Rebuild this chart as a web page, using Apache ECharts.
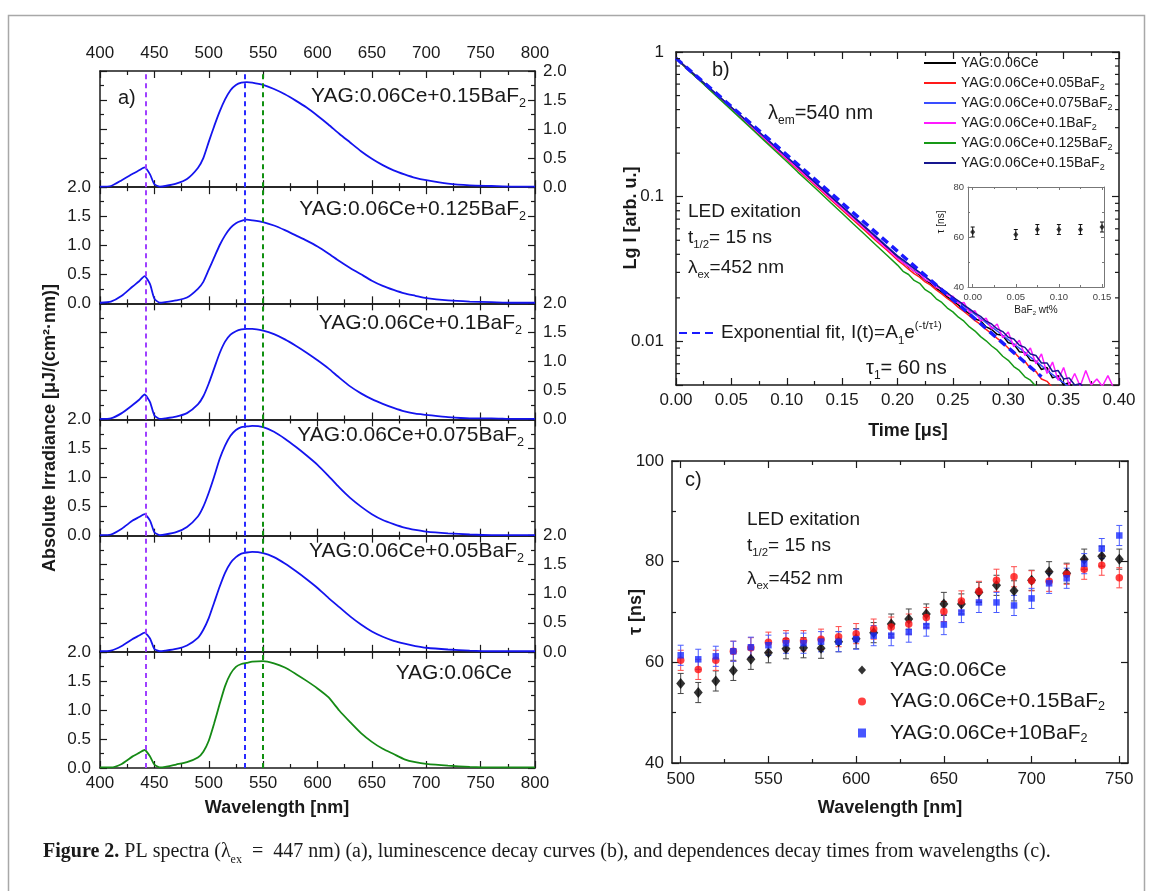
<!DOCTYPE html>
<html><head><meta charset="utf-8">
<script src="https://cdn.jsdelivr.net/npm/echarts@6/dist/echarts.min.js"></script>
<style>html,body{margin:0;padding:0;background:#fff}#c{width:1153px;height:891px}</style>
</head><body><div id="c"></div>
<script>
// ---------- Panel a: PL spectra ----------
const W = [400,410,420,430,436,441,446,450,455,460,470,480,490,495,500,505,510,515,520,525,530,535,540,550,560,570,580,590,600,610,620,630,640,650,660,670,680,690,700,720,740,760,780,800];
const irr015  = [0.01,0.02,0.12,0.23,0.29,0.34,0.22,0.05,0.01,0.02,0.06,0.14,0.33,0.5,0.78,1.05,1.3,1.51,1.67,1.76,1.80,1.81,1.80,1.76,1.69,1.60,1.49,1.37,1.23,1.08,0.92,0.77,0.62,0.49,0.38,0.29,0.22,0.16,0.12,0.06,0.03,0.02,0.01,0.01];
const irr0125 = [0.01,0.03,0.13,0.29,0.38,0.47,0.33,0.08,0.01,0.02,0.05,0.10,0.25,0.37,0.58,0.79,1.0,1.17,1.30,1.38,1.42,1.44,1.43,1.40,1.34,1.26,1.17,1.08,0.98,0.86,0.73,0.61,0.5,0.39,0.30,0.23,0.17,0.13,0.09,0.05,0.03,0.02,0.01,0.01];
const irr01   = [0.01,0.02,0.11,0.25,0.34,0.43,0.30,0.07,0.01,0.02,0.05,0.11,0.26,0.4,0.62,0.88,1.14,1.34,1.46,1.52,1.55,1.56,1.56,1.53,1.47,1.38,1.27,1.15,1.02,0.88,0.72,0.57,0.45,0.35,0.27,0.20,0.14,0.10,0.08,0.04,0.02,0.02,0.01,0.01];
const irr0075 = [0.01,0.02,0.12,0.26,0.32,0.37,0.26,0.06,0.01,0.02,0.06,0.15,0.33,0.5,0.74,1.02,1.32,1.55,1.72,1.82,1.87,1.88,1.89,1.87,1.79,1.67,1.53,1.38,1.22,1.03,0.83,0.65,0.5,0.37,0.27,0.20,0.14,0.10,0.07,0.04,0.02,0.01,0.01,0.01];
const irr005  = [0.01,0.02,0.1,0.22,0.28,0.33,0.23,0.05,0.01,0.02,0.05,0.11,0.24,0.38,0.58,0.85,1.12,1.36,1.53,1.63,1.69,1.71,1.72,1.70,1.63,1.52,1.39,1.25,1.10,0.93,0.77,0.61,0.47,0.35,0.26,0.19,0.14,0.10,0.07,0.04,0.02,0.01,0.01,0.01];
const irrCe   = [0.01,0.01,0.07,0.2,0.26,0.31,0.2,0.06,0.01,0.02,0.06,0.1,0.18,0.28,0.47,0.77,1.1,1.41,1.62,1.74,1.79,1.81,1.83,1.84,1.80,1.73,1.62,1.5,1.37,1.22,0.99,0.79,0.6,0.45,0.33,0.24,0.15,0.1,0.07,0.04,0.02,0.01,0.01,0.01];
const aLabels = ['YAG:0.06Ce+0.15BaF2','YAG:0.06Ce+0.125BaF2','YAG:0.06Ce+0.1BaF2','YAG:0.06Ce+0.075BaF2','YAG:0.06Ce+0.05BaF2','YAG:0.06Ce'];
const vLines = [442, 533, 550];

// ---------- Panel b: decay curves ----------
const T = [0,0.01,0.02,0.03,0.04,0.05,0.06,0.07,0.08,0.09,0.10,0.11,0.12,0.13,0.14,0.15,0.16,0.17,0.18,0.19,0.20,
 0.205,0.21,0.215,0.22,0.225,0.23,0.235,0.24,0.245,0.25,0.255,0.26,0.265,0.27,0.275,0.28,0.285,0.29,0.295,0.30,
 0.305,0.31,0.315,0.32,0.325,0.33,0.335,0.34,0.345,0.35,0.355,0.36,0.365,0.37,0.375,0.38,0.385,0.39,0.395,0.40];
const decCe = [0.905,0.772,0.66,0.562,0.48,0.41,0.35,0.298,0.255,0.217,0.186,0.158,0.135,0.116,0.099,0.084,0.072,0.061,0.052,0.045,0.038,
 0.0352,0.0328,0.0307,0.0287,0.0266,0.0251,0.0233,0.0219,0.0203,0.0190,0.0179,0.0164,0.0156,0.0143,0.0139,0.0126,0.0121,0.0112,0.0110,0.0098,
 0.0096,0.0085,0.0084,0.0074,0.0073,0.0064,0.0066,0.0056,0.0058,0.0050,0.0052,0.0046,0.0048,0.0042,null,null,null,null,null,null];
const dec005 = [0.905,0.768,0.655,0.556,0.474,0.404,0.344,0.293,0.25,0.212,0.181,0.154,0.131,0.112,0.095,0.081,0.069,0.059,0.05,0.043,0.0365,
 0.0340,0.0316,0.0294,0.0278,0.0258,0.0245,0.0227,0.0213,0.0198,0.0186,0.0172,0.0161,0.0150,0.0139,0.0131,0.0121,0.0113,0.0105,0.0098,0.0090,
 0.0085,0.0077,0.0073,0.0065,0.0062,0.0055,0.0053,0.0048,0.0049,0.0043,null,null,null,null,null,null,null,null,null,null];
const dec0075 = [0.905,0.775,0.664,0.567,0.485,0.415,0.355,0.303,0.259,0.221,0.189,0.162,0.138,0.118,0.101,0.086,0.0735,0.0628,0.0536,0.0458,0.0391,
 0.0362,0.0340,0.0318,0.0298,0.0279,0.0261,0.0245,0.0229,0.0214,0.0201,0.0187,0.0176,0.0164,0.0154,0.0144,0.0135,0.0126,0.0118,0.0110,0.0103,
 0.0096,0.0090,0.0084,0.0078,0.0073,0.0068,0.0063,0.0059,0.0055,0.0052,0.0048,0.0049,0.0044,0.0040,null,null,null,null,null,null];
const dec01 = [0.905,0.77,0.657,0.56,0.477,0.407,0.347,0.296,0.252,0.215,0.183,0.156,0.133,0.114,0.097,0.083,0.071,0.0605,0.0515,0.044,0.0375,
 0.0350,0.0330,0.0306,0.0292,0.0268,0.0257,0.0236,0.0232,0.0208,0.0205,0.0183,0.0186,0.0158,0.0163,0.0138,0.0145,0.0122,0.0132,0.0106,0.0116,
 0.0092,0.0102,0.0080,0.0090,0.0070,0.0082,0.0060,0.0072,0.0054,0.0066,0.0050,0.0060,0.0049,0.0063,0.0050,0.0055,0.0049,0.0058,0.0048,0.0045];
const dec0125 = [0.905,0.765,0.65,0.552,0.468,0.398,0.338,0.287,0.243,0.206,0.175,0.148,0.126,0.107,0.0905,0.0768,0.065,0.0552,0.0468,0.0397,0.0337,
 0.0305,0.0290,0.0264,0.0252,0.0228,0.0216,0.0197,0.0186,0.0170,0.0160,0.0147,0.0138,0.0126,0.0118,0.0108,0.0101,0.0093,0.0087,0.0079,0.0074,
 0.0067,0.0063,0.0057,0.0054,0.0049,0.0047,0.0042,null,null,null,null,null,null,null,null,null,null,null,null,null];
const dec015 = [0.905,0.774,0.662,0.566,0.484,0.414,0.354,0.302,0.258,0.22,0.188,0.161,0.137,0.117,0.1,0.0855,0.073,0.0624,0.0533,0.0455,0.0389,
 0.0366,0.0342,0.0320,0.0300,0.0280,0.0262,0.0246,0.0230,0.0217,0.0202,0.0191,0.0178,0.0168,0.0157,0.0149,0.0138,0.0132,0.0122,0.0117,0.0107,
 0.0104,0.0094,0.0091,0.0082,0.0080,0.0071,0.0071,0.0062,0.0063,0.0055,0.0056,0.0050,0.0051,0.0046,0.0047,0.0043,null,null,null,null];
const bNames = ['YAG:0.06Ce','YAG:0.06Ce+0.05BaF2','YAG:0.06Ce+0.075BaF2','YAG:0.06Ce+0.1BaF2','YAG:0.06Ce+0.125BaF2','YAG:0.06Ce+0.15BaF2'];
const fitT = [0, 0.33];
const fitI = [0.905, 0.0057];
const logMinor = [0.006,0.007,0.008,0.009,0.02,0.03,0.04,0.05,0.06,0.07,0.08,0.09,0.2,0.3,0.4,0.5,0.6,0.7,0.8,0.9];

// inset
const insetX = [0, 0.05, 0.075, 0.1, 0.125, 0.15];
const insetTau = [62, 61, 63, 63, 63, 64];
const insetErr = [2, 2, 2, 2, 2, 2];

// ---------- Panel c: decay time vs wavelength ----------
const cW = [500,510,520,530,540,550,560,570,580,590,600,610,620,630,640,650,660,670,680,690,700,710,720,730,740,750];
const tauCe  = [55.8,54.0,56.3,58.4,60.6,61.9,62.7,62.9,62.8,64.1,64.7,65.9,67.6,68.6,69.6,71.6,71.6,73.9,75.3,74.2,76.3,78.0,77.7,80.5,81.1,80.5];
const tau015 = [60.4,58.6,60.4,62.2,62.9,64.0,64.3,64.3,64.6,65.1,65.7,66.6,67.0,67.6,68.9,70.1,72.2,74.1,76.3,77.0,76.2,76.1,77.5,78.5,79.3,76.8];
const tau10  = [61.4,60.6,61.2,62.2,63.0,63.4,63.8,63.8,64.1,64.1,64.6,65.3,65.3,66.0,67.2,67.5,69.9,71.9,71.9,71.3,72.7,75.7,76.7,79.6,82.6,85.2];
const errCe  = [2,2,2,2,2,2,2,2,2,2,2,2,2,2,2,2.3,2,2,2,2,2,2,2,2,2,2];
const err015 = [2,2,2,2,2,2,2,2,2,2,2,2,2,2,2,2,2,2,2.2,2,2,2,2,2,2,2];
const err10  = [2,2,2,2,2,2,2,2,2,2,2,2,2,2,2,2,2,2,2,2,2,2,2,2,2,2];
const cNames = ['YAG:0.06Ce\u200b','YAG:0.06Ce+0.15BaF2\u200b','YAG:0.06Ce+10BaF2'];

// ---------- build ----------
const FONT = "'Liberation Sans', Arial, sans-serif";
const SERIF = "'Liberation Serif', 'Times New Roman', serif";
const TXT = '#1a1a1a';
const AX = '#1a1a1a';
const BLUE = '#1414ee', GREEN = '#158a15';
const vColors = ['#a040ff', '#2a2aff', '#109010'];

const grid = [], xAxis = [], yAxis = [], series = [];
const addGrid = g => { grid.push(g); return grid.length - 1; };
const addX = o => { xAxis.push(o); return xAxis.length - 1; };
const addY = o => { yAxis.push(o); return yAxis.length - 1; };
const lbl = (show, extra) => Object.assign({show, color: TXT, fontSize: 17, fontFamily: FONT}, extra || {});
function axis(gi, pos, type, opt) {
  return Object.assign({
    gridIndex: gi, type: type || 'value', position: pos,
    axisLine: {show: true, onZero: false, lineStyle: {color: AX, width: 1.5}},
    axisTick: {show: true, inside: true, length: 7, lineStyle: {color: AX, width: 1.2}},
    minorTick: {show: false},
    splitLine: {show: false}, minorSplitLine: {show: false},
    axisLabel: {show: false}
  }, opt);
}

// Panel a
const aTop = 71, aBot = 768, aH = (aBot - aTop) / 6;
const aData = [irr015, irr0125, irr01, irr0075, irr005, irrCe];
for (let i = 0; i < 6; i++) {
  const gi = addGrid({left: 100, width: 435, top: aTop + i * aH, height: aH});
  const common = {min: 400, max: 800, interval: 50, minorTick: {show: true, splitNumber: 2, length: 4, lineStyle: {color: AX, width: 1.2}}};
  const xb = addX(axis(gi, 'bottom', 'value', Object.assign({}, common, {axisLabel: lbl(i === 5, {margin: 7})})));
  addX(axis(gi, 'top', 'value', Object.assign({}, common, {axisLabel: lbl(i === 0, {margin: 9})})));
  const yc = {min: 0, max: 2, interval: 0.5, minorTick: {show: true, splitNumber: 2, length: 4, lineStyle: {color: AX, width: 1.2}}};
  const yl = addY(axis(gi, 'left', 'value', Object.assign({}, yc, {axisLabel: lbl(i % 2 === 1, {margin: 9, formatter: v => v.toFixed(1)})})));
  addY(axis(gi, 'right', 'value', Object.assign({}, yc, {axisLabel: lbl(i % 2 === 0, {margin: 8, formatter: v => v.toFixed(1)})})));
  series.push({
    name: 'a' + i, type: 'line', xAxisIndex: xb, yAxisIndex: yl,
    data: W.map((w, k) => [w, aData[i][k]]), symbol: 'none', smooth: 0.2,
    lineStyle: {color: i === 5 ? GREEN : BLUE, width: 1.8},
    markLine: {silent: true, symbol: ['none', 'none'], label: {show: false}, animation: false,
      data: vLines.map((v, k) => ({xAxis: v, lineStyle: {color: vColors[k], type: [5, 4], width: 2}}))}
  });
}

// Panel b
const gb = addGrid({left: 676, top: 52, width: 443, height: 333});
const bxc = {min: 0, max: 0.4, interval: 0.05, minorTick: {show: true, splitNumber: 2, length: 4, lineStyle: {color: AX, width: 1.2}}};
const bx = addX(axis(gb, 'bottom', 'value', Object.assign({}, bxc, {axisLabel: lbl(true, {margin: 7, formatter: v => v.toFixed(2)})})));
addX(axis(gb, 'top', 'value', Object.assign({}, bxc)));
const logFmt = v => { const l = Math.log10(v); const r = Math.round(l); if (Math.abs(l - r) > 1e-6) return ''; return r === 0 ? '1' : (r === -1 ? '0.1' : (r === -2 ? '0.01' : '')); };
const by = addY(axis(gb, 'left', 'log', {logBase: 10, min: 0.005, max: 1, axisLabel: lbl(true, {margin: 12, formatter: logFmt})}));
addY(axis(gb, 'right', 'log', {logBase: 10, min: 0.005, max: 1}));
const bData = [decCe, dec005, dec0075, dec01, dec0125, dec015];
const bColors = ['#000000', '#ff1a1a', '#3a4dff', '#ff1aff', '#169a16', '#16168f'];
bData.forEach((arr, i) => series.push({
  name: bNames[i], type: 'line', xAxisIndex: bx, yAxisIndex: by, symbol: 'none', clip: true,
  data: T.map((t, k) => [t, arr[k]]), lineStyle: {color: bColors[i], width: 1.5}, itemStyle: {color: bColors[i]}
}));
series.push({name: 'fit', type: 'line', xAxisIndex: bx, yAxisIndex: by, symbol: 'none',
  data: fitT.map((t, k) => [t, fitI[k]]), lineStyle: {color: '#1a1aff', width: 3.5, type: [8, 5]}, itemStyle: {color: '#1a1aff'}, z: 5});
series.push({type: 'custom', xAxisIndex: bx, yAxisIndex: by, silent: true, clip: false, z: 6,
  data: logMinor.map(v => [0, v]),
  renderItem: (p, api) => {
    const a = api.coord([0, api.value(1)]), b = api.coord([0.4, api.value(1)]);
    const st = {stroke: AX, lineWidth: 1.2};
    return {type: 'group', children: [
      {type: 'line', shape: {x1: a[0], y1: a[1], x2: a[0] + 4, y2: a[1]}, style: st},
      {type: 'line', shape: {x1: b[0], y1: b[1], x2: b[0] - 4, y2: b[1]}, style: st}]};
  }});

// Inset
const IC = '#777';
const insetAx = (gi, pos, opt) => axis(gi, pos, 'value', Object.assign({
  axisLine: {show: true, onZero: false, lineStyle: {color: IC, width: 1}},
  axisTick: {show: true, inside: true, length: 3, lineStyle: {color: IC, width: 1}}}, opt));
const ilbl = (extra) => Object.assign({show: true, color: '#444', fontSize: 9.5, fontFamily: FONT}, extra);
const gi1 = addGrid({left: 968, top: 187, width: 136, height: 100});
addX(insetAx(gi1, 'bottom', {min: 0, max: 1, axisTick: {show: false}}));
addX(insetAx(gi1, 'top', {min: 0, max: 1, axisTick: {show: false}}));
const iyc = {min: 40, max: 80, interval: 20, minorTick: {show: true, splitNumber: 2, length: 2, lineStyle: {color: IC}}};
addY(insetAx(gi1, 'left', Object.assign({}, iyc, {axisLabel: ilbl({margin: 4})})));
addY(insetAx(gi1, 'right', Object.assign({}, iyc)));
const gi2 = addGrid({left: 972.7, top: 187, width: 129.3, height: 100});
const ixc = {min: 0, max: 0.15, interval: 0.05, axisLine: {show: false}, minorTick: {show: true, splitNumber: 2, length: 2, lineStyle: {color: IC}}};
const ix = addX(insetAx(gi2, 'bottom', Object.assign({}, ixc, {axisLabel: ilbl({margin: 5, formatter: v => v.toFixed(2)})})));
addX(insetAx(gi2, 'top', Object.assign({}, ixc)));
const iy = addY(insetAx(gi2, 'left', {min: 40, max: 80, axisLine: {show: false}, axisTick: {show: false}}));

function errSeries(xi, yi, xs, ys, es, color, cap, z) {
  return {type: 'custom', xAxisIndex: xi, yAxisIndex: yi, silent: true, z: z || 2,
    data: xs.map((x, k) => [x, ys[k] - es[k], ys[k] + es[k]]),
    renderItem: (p, api) => {
      const lo = api.coord([api.value(0), api.value(1)]), hi = api.coord([api.value(0), api.value(2)]);
      const st = {stroke: color, lineWidth: 1};
      return {type: 'group', children: [
        {type: 'line', shape: {x1: lo[0], y1: lo[1], x2: hi[0], y2: hi[1]}, style: st},
        {type: 'line', shape: {x1: lo[0] - cap, y1: lo[1], x2: lo[0] + cap, y2: lo[1]}, style: st},
        {type: 'line', shape: {x1: hi[0] - cap, y1: hi[1], x2: hi[0] + cap, y2: hi[1]}, style: st}]};
    }};
}
series.push(errSeries(ix, iy, insetX, insetTau, insetErr, '#111', 2));
series.push({name: 'inset', type: 'scatter', xAxisIndex: ix, yAxisIndex: iy, symbol: 'diamond', symbolSize: [5, 6],
  data: insetX.map((x, k) => [x, insetTau[k]]), itemStyle: {color: '#111'}, z: 3});

// Panel c
const gc1 = addGrid({left: 672, top: 461, width: 456, height: 302});
addX(axis(gc1, 'bottom', 'value', {min: 0, max: 1, axisTick: {show: false}}));
addX(axis(gc1, 'top', 'value', {min: 0, max: 1, axisTick: {show: false}}));
const cyc = {min: 40, max: 100, interval: 20, minorTick: {show: true, splitNumber: 2, length: 4, lineStyle: {color: AX, width: 1.2}}};
addY(axis(gc1, 'left', 'value', Object.assign({}, cyc, {axisLabel: lbl(true, {margin: 8})})));
addY(axis(gc1, 'right', 'value', Object.assign({}, cyc)));
const gc2 = addGrid({left: 680.7, top: 461, width: 438.6, height: 302});
const cxc = {min: 500, max: 750, interval: 50, axisLine: {show: false}, minorTick: {show: true, splitNumber: 2, length: 4, lineStyle: {color: AX, width: 1.2}}};
const cx = addX(axis(gc2, 'bottom', 'value', Object.assign({}, cxc, {axisLabel: lbl(true, {margin: 8})})));
addX(axis(gc2, 'top', 'value', Object.assign({}, cxc)));
const cy = addY(axis(gc2, 'left', 'value', {min: 40, max: 100, axisLine: {show: false}, axisTick: {show: false}}));
series.push(errSeries(cx, cy, cW, tauCe, errCe, '#444', 3, 2));
series.push(errSeries(cx, cy, cW, tau015, err015, '#ff4a4a', 3, 2));
series.push(errSeries(cx, cy, cW, tau10, err10, '#4a5cff', 3, 2));
series.push({name: cNames[0], type: 'scatter', xAxisIndex: cx, yAxisIndex: cy, symbol: 'diamond', symbolSize: [9, 11],
  data: cW.map((w, k) => [w, tauCe[k]]), itemStyle: {color: '#000'}, z: 3});
series.push({name: cNames[1], type: 'scatter', xAxisIndex: cx, yAxisIndex: cy, symbol: 'circle', symbolSize: 7.5,
  data: cW.map((w, k) => [w, tau015[k]]), itemStyle: {color: '#ff1010'}, z: 3});
series.push({name: cNames[2], type: 'scatter', xAxisIndex: cx, yAxisIndex: cy, symbol: 'rect', symbolSize: 6.5,
  data: cW.map((w, k) => [w, tau10[k]]), itemStyle: {color: '#1a2cff'}, z: 3});

// ---------- text ----------
function mkRich(size, fam, weight) {
  return {
    s: {fontSize: size * 0.6, lineHeight: size * 0.6, verticalAlign: 'bottom', fontFamily: fam || FONT, fill: TXT, color: TXT, fontWeight: weight || 'normal'},
    p: {fontSize: size * 0.6, lineHeight: size * 0.6, verticalAlign: 'top', fontFamily: fam || FONT, fill: TXT, color: TXT},
    q: {fontSize: size * 0.45, lineHeight: size * 0.85, verticalAlign: 'top', fontFamily: fam || FONT, fill: TXT, color: TXT},
    b: {fontSize: size, lineHeight: size * 1.35, fontWeight: 'bold', fontFamily: fam || FONT, fill: TXT, color: TXT}
  };
}
function txt(x, y, text, size, o) {
  o = o || {};
  return {type: 'text', x, y, rotation: o.rot || 0, silent: true, z: 10,
    style: {text, fill: TXT, fontSize: size, fontFamily: o.fam || FONT, fontWeight: o.bold ? 'bold' : 'normal',
      align: o.align || 'left', verticalAlign: 'middle', lineHeight: size * 1.35, rich: mkRich(size, o.fam, o.bold ? 'bold' : 'normal')}};
}
const sub = s => s.replace(/BaF2/, 'BaF{s|2}');
const aLabelPos = [[526, 96], [526, 209], [522, 323], [524, 435], [524, 551], [512, 673]];
const graphics = [
  {type: 'rect', silent: true, z: 0, shape: {x: 8.5, y: 15.5, width: 1136, height: 900}, style: {fill: 'none', stroke: '#a8a8a8', lineWidth: 1.5}},
  txt(118, 98, 'a)', 20),
  ...aLabels.map((s, i) => txt(aLabelPos[i][0], aLabelPos[i][1], sub(s), 21, {align: 'right'})),
  txt(50, 428, 'Absolute Irradiance [μJ/(cm²·nm)]', 18, {bold: true, align: 'center', rot: Math.PI / 2}),
  txt(277, 808, 'Wavelength [nm]', 18, {bold: true, align: 'center'}),
  txt(712, 70, 'b)', 20),
  txt(768, 113, 'λ{s|em}=540 nm', 20),
  txt(688, 212, 'LED exitation', 19),
  txt(688, 238, 't{s|1/2}= 15 ns', 19),
  txt(688, 268, 'λ{s|ex}=452 nm', 19),
  txt(866, 368, 'τ{s|1}= 60 ns', 20),
  txt(631, 218, 'Lg I [arb. u.]', 18, {bold: true, align: 'center', rot: Math.PI / 2}),
  txt(908, 431, 'Time [μs]', 18, {bold: true, align: 'center'}),
  txt(941, 222, 'τ [ns]', 10, {align: 'center', rot: Math.PI / 2}),
  txt(1036, 310, 'BaF{s|2} wt%', 10, {align: 'center'}),
  txt(685, 480, 'c)', 20),
  txt(747, 520, 'LED exitation', 19),
  txt(747, 546, 't{s|1/2}= 15 ns', 19),
  txt(747, 579, 'λ{s|ex}=452 nm', 19),
  txt(636, 612, 'τ [ns]', 18, {bold: true, align: 'center', rot: Math.PI / 2}),
  txt(890, 808, 'Wavelength [nm]', 18, {bold: true, align: 'center'}),
  txt(43, 852, '{b|Figure 2.} PL spectra (λ{s|ex}\u2002=\u2002447 nm) (a), luminescence decay curves (b), and dependences decay times from wavelengths (c).', 20, {fam: SERIF})
];

const legTxt = (size, lh) => ({fontSize: size, fontFamily: FONT, color: TXT, lineHeight: lh, rich: mkRich(size)});
const option = {
  animation: false,
  backgroundColor: '#fff',
  grid, xAxis, yAxis, series,
  legend: [
    {data: bNames, orient: 'vertical', left: 923, top: 54, padding: 0, itemWidth: 32, itemHeight: 10, itemGap: 2, selectedMode: false,
      itemStyle: {opacity: 0},
      textStyle: Object.assign(legTxt(14, 18), {rich: {s: {fontSize: 9, lineHeight: 9, verticalAlign: 'bottom', fontFamily: FONT, color: TXT}}}),
      formatter: n => sub(n)},
    {data: ['fit'], left: 678, top: 320, padding: 0, itemWidth: 37, itemHeight: 10, selectedMode: false,
      itemStyle: {opacity: 0},
      textStyle: legTxt(19, 26),
      formatter: () => 'Exponential fit, I(t)=A{s|1}e{p|(-t/τ}{q|1}{p|)}'},
    {data: cNames, orient: 'vertical', left: 858, top: 658, padding: 0, itemWidth: 8, itemHeight: 9, itemGap: 7.5, selectedMode: false,
      textStyle: Object.assign(legTxt(21, 24), {padding: [0, 0, 0, 19]}),
      formatter: n => sub(n.replace('\u200b', ''))}
  ],
  graphic: graphics
};
const chart = echarts.init(document.getElementById('c'), null, {renderer: 'canvas'});
chart.setOption(option);
</script>
</body></html>
